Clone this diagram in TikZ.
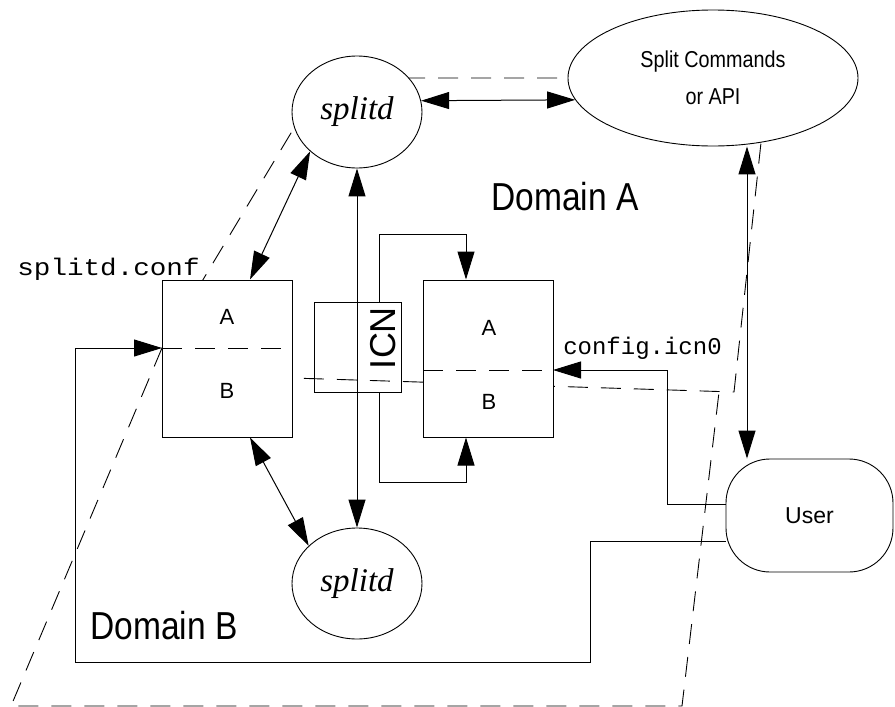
\documentclass[tikz,border=0pt]{standalone}
\usepackage{fontspec}
\setmainfont{Liberation Sans}
\newfontfamily\tm{Liberation Serif}
\newfontfamily\narrow[FakeStretch=0.86]{Liberation Sans}
\newfontfamily\cour{Liberation Mono}
\newfontfamily\widecour[FakeStretch=1.15]{Liberation Mono}
\usetikzlibrary{arrows.meta,
	positioning,
	shapes}
\tikzstyle{dm}=[dash pattern=on 20pt off 13pt, line width=0.9pt]
\tikzstyle{bx}=[draw, fill=white, minimum width=130pt, minimum height=157pt, inner sep=0]
\tikzstyle{el}=[draw, ellipse, fill=white, inner sep=0, line width=0.9pt]
\tikzstyle{sd}=[font={\fontsize{33}{36}\tm\itshape}]
\tikzstyle{lt}=[inner sep=0, font=\fontsize{22}{26}\selectfont]
\tikzstyle{dom}=[inner sep=0, font={\fontsize{39}{44}\narrow}]
\tikzstyle{ar}=[-{Triangle[length=28pt, width=17pt]}]
\tikzstyle{dar}=[{Triangle[length=28pt, width=17pt]}-{Triangle[length=28pt, width=17pt]}]

\begin{document}
\begin{tikzpicture}[x=1pt, y=-1pt, line width=1pt]
	\useasboundingbox (0,0) rectangle (895,707);
	\draw[dm] (162,348) -- (324,78) -- (768,78) -- (734,392) -- (292,378) -- cycle;
	\draw[dm] (162,348) -- (11,706) -- (682,706) -- (719,392);

	\node[el, sd, minimum width=130pt, minimum height=112pt] (sd1) at (357,112) {splitd};
	\node[el, sd, minimum width=130pt, minimum height=111pt] (sd2) at (357,583.5) {splitd};
	\node[el, minimum width=290pt, minimum height=136pt, align=center,
		font={\fontsize{23}{37}\narrow}] (api) at (713,78) {Split Commands\\or API};
	\node[draw, fill=white, rounded corners=44pt, minimum width=167pt, minimum height=113pt,
		inner sep=0, line width=0.9pt, font=\fontsize{23}{28}\selectfont] (usr) at (809.5,515.5) {User};

	\node[bx] (lb) at (227,358.5) {};
	\node[bx] (rb) at (488,358.5) {};
	\node[draw, minimum width=87pt, minimum height=90pt, inner sep=0, line width=0.9pt] (icn) at (357.5,347) {};
	\node[rotate=90, inner sep=0, font=\fontsize{36}{40}\selectfont] (icnt) at (383,338) {ICN};

	\coordinate (ldw) at (162,348);
	\coordinate (lde) at (292,348);
	\coordinate (rdw) at (423,370);
	\coordinate (rde) at (553,370);
	\draw[dm] (ldw) -- (lde);
	\draw[dm] (rdw) -- (rde);

	\node[lt] (la) at (227,317) {A};
	\node[lt] (lbb) at (227,391) {B};
	\node[lt] (ra) at (489,328) {A};
	\node[lt] (rbb) at (489,402) {B};

	\node[dom] (doma) at (565,197) {Domain A};
	\node[dom] (domb) at (164,626) {Domain B};
	\node[anchor=base, inner sep=0, font={\fontsize{24}{28}\widecour}] (conf) at (108.5,275) {splitd.conf};
	\node[anchor=base, inner sep=0, font={\fontsize{24}{28}\cour}] (icnf) at (642.5,354) {config.icn0};

	\draw[dar] (sd1.10) -- (api.189);
	\draw[dar] (sd1.220) -- ([xshift=23pt]lb.north);
	\draw[dar] ([xshift=23pt]lb.south) -- (sd2.142);
	\draw[dar] (sd1.south) -- (sd2.north);
	\draw[dar] ([xshift=34pt]api.south) -- ([xshift=-62.5pt]usr.north);

	\draw[ar] ([xshift=21.5pt]icn.north) -- ++(0,-67) -| ([xshift=-22pt]rb.north);
	\draw[ar] ([xshift=21.5pt]icn.south) -- ++(0,90) -| ([xshift=-22pt]rb.south);
	\draw[ar] ([yshift=11.5pt]usr.west) -- ++(-58,0) |- (rde);
	\draw[ar] ([yshift=-25.5pt]usr.west) -- ++(-135,0) -- ++(0,121) -- ++(-515,0) |- (ldw);
\end{tikzpicture}
\end{document}
